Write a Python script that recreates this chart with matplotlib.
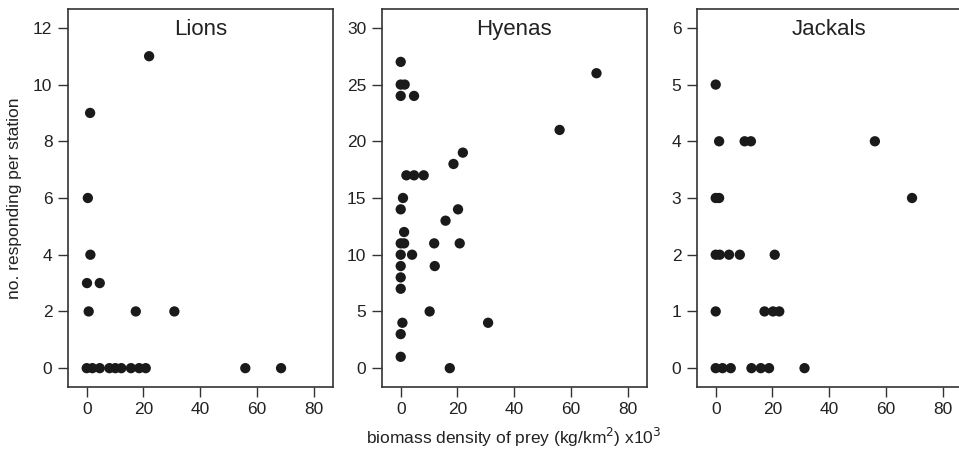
import matplotlib.pyplot as plt

plt.rcParams['font.family'] = ['Liberation Sans', 'DejaVu Sans']

# Lions
lion_x = [22, 1.2, 0.4, 1.3, 0.1, 4.6, 0.7, 17.3, 30.9,
          0, 2, 4.6, 8, 10.1, 12.2, 15.6, 18.5, 20.8, 55.9, 68.5]
lion_y = [11, 9, 6, 4, 3, 3, 2, 2, 2,
          0, 0, 0, 0, 0, 0, 0, 0, 0, 0, 0]

# Hyenas
hyena_x = [0, 0, 1.4, 0, 4.7, 69, 56, 21.9, 18.6, 2, 4.7, 8.1, 0.8, 0, 20.2,
           15.8, 1.2, 0, 1.2, 11.8, 20.8, 0, 4, 0, 12, 0, 0, 10.2, 0.6, 30.8,
           0, 0, 17.3]
hyena_y = [27, 25, 25, 24, 24, 26, 21, 19, 18, 17, 17, 17, 15, 14, 14,
           13, 12, 11, 11, 11, 11, 10, 10, 9, 9, 8, 7, 5, 4, 4,
           3, 1, 0]

# Jackals
jackal_x = [0, 1.2, 10.2, 12.4, 56.1, 0, 1.2, 69.2, 0, 1.4, 4.7, 8.5, 20.8,
            0, 17.2, 20.2, 22.4, 0, 2.4, 5.3, 12.6, 15.9, 18.8, 31.3]
jackal_y = [5, 4, 4, 4, 4, 3, 3, 3, 2, 2, 2, 2, 2,
            1, 1, 1, 1, 0, 0, 0, 0, 0, 0, 0]

panels = [("Lions", lion_x, lion_y, [0, 2, 4, 6, 8, 10, 12], 12),
          ("Hyenas", hyena_x, hyena_y, [0, 5, 10, 15, 20, 25, 30], 30),
          ("Jackals", jackal_x, jackal_y, [0, 1, 2, 3, 4, 5, 6], 6)]

W, H = 959, 450
fig = plt.figure(figsize=(W / 100, H / 100), dpi=100)
lefts = [67.7, 381.7, 696.7]
aw, top, bottom = 265, 9.3, 386.7
edge = '#333333'

for left, (name, xs, ys, yt, ymax) in zip(lefts, panels):
    ax = fig.add_axes([left / W, 1 - bottom / H, aw / W, (bottom - top) / H])
    ax.scatter(xs, ys, s=55, color='#1a1a1a', edgecolors='none', zorder=3)
    ax.set_xlim(-6.7, 86.7)
    m = ymax * 0.0545
    ax.set_ylim(-m, ymax + m)
    ax.set_xticks([0, 20, 40, 60, 80])
    ax.set_yticks(yt)
    ax.tick_params(direction='out', length=7, width=1, color=edge,
                   labelsize=12.5, pad=4, labelcolor='#222222')
    for sp in ax.spines.values():
        sp.set_color(edge)
        sp.set_linewidth(1.2)
    ax.text(0.5, 0.975, name, transform=ax.transAxes, ha='center', va='top',
            fontsize=16, color='#222222')

fig.text(15 / W, 1 - 198 / H, "no. responding per station", rotation=90,
         ha='center', va='center', fontsize=12.5, color='#222222')
fig.text(514 / W, 1 - 437 / H, "biomass density of prey (kg/km$^2$) x10$^3$",
         ha='center', va='center', fontsize=12.5, color='#222222')

fig.savefig('out.png', dpi=100)
